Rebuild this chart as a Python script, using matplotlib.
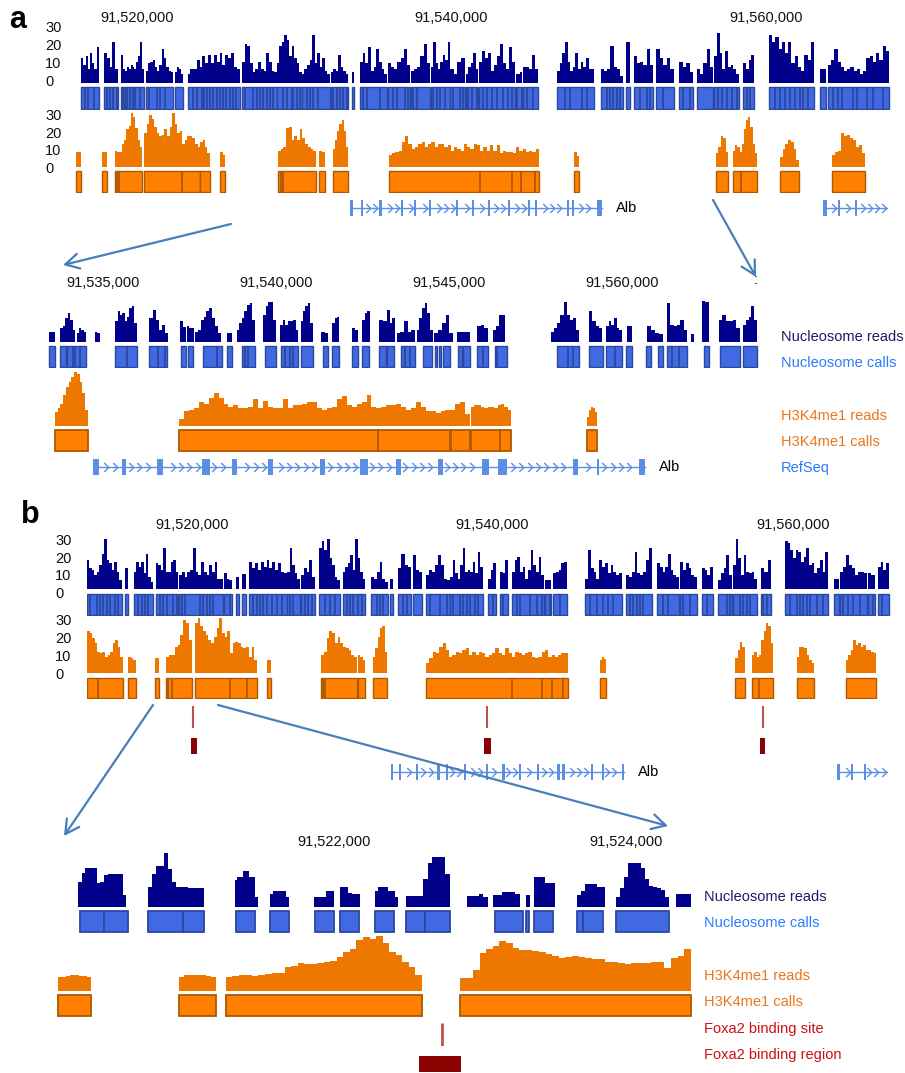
import matplotlib
matplotlib.use('Agg')
import matplotlib.pyplot as plt
import numpy as np
from matplotlib.patches import Rectangle, FancyArrowPatch
from matplotlib.path import Path
from matplotlib.transforms import blended_transform_factory, ScaledTranslation

plt.rcParams['font.family'] = ['Liberation Sans', 'DejaVu Sans']

# ----------------------------------------------------------------- DATA (kb)
# ---- panel a, overview
A_TICKS = [91520, 91540, 91560]
A_TICK_LABELS = ['91,520,000', '91,540,000', '91,560,000']
Y_TICKS = [0, 10, 20, 30]
NUC_A_READS = [
    (91516.44, 91517.58, [14, 10, 15, 8, 17, 11, 8, 20]),
    (91517.90, 91518.79, [17, 14, 9, 23, 8]),
    (91518.98, 91520.45, [16, 8, 7, 9, 8, 10, 9, 8, 12, 15, 23, 8]),
    (91520.57, 91522.29, [7, 11, 12, 13, 9, 7, 10, 19, 14, 9, 7, 6]),
    (91522.42, 91522.93, [6, 9, 8, 5]),
    (91523.24, 91524.13, [5, 8, 8, 8, 13, 9]),
    (91524.13, 91526.55, [15, 11, 16, 11, 16, 12, 17, 10, 16, 14, 17, 9, 8]),
    (91526.68, 91528.90, [12, 22, 21, 11, 6, 8, 12, 8, 7, 17, 12, 7, 6]),
    (91528.90, 91530.49, [11, 21, 23, 27, 24, 15, 21, 14, 11, 6]),
    (91530.49, 91532.27, [5, 8, 10, 13, 27, 11, 17, 9, 14, 7, 5]),
    (91532.34, 91533.42, [6, 8, 7, 16, 9, 7, 5]),
    (91533.67, 91533.80, [6]),
    (91534.18, 91535.90, [12, 17, 11, 20, 7, 9, 19, 12, 8, 5]),
    (91535.96, 91537.36, [11, 9, 8, 12, 14, 19, 10]),
    (91537.42, 91538.63, [7, 8, 9, 15, 22, 11]),
    (91538.70, 91539.90, [9, 23, 11, 8, 12, 16, 13, 23]),
    (91539.90, 91540.86, [8, 5, 12, 14]),
    (91540.92, 91541.68, [5, 9, 11, 17, 8]),
    (91541.75, 91544.04, [12, 18, 14, 17, 7, 10, 15, 22, 11, 8, 20, 12]),
    (91544.10, 91544.48, [5, 5, 6]),
    (91544.55, 91545.50, [9, 9, 8, 16, 8]),
    (91546.71, 91549.06, [7, 11, 17, 23, 12, 7, 9, 17, 8, 12, 9, 14, 8, 8]),
    (91549.51, 91550.91, [8, 7, 8, 21, 9, 8, 4]),
    (91551.10, 91551.35, [23]),
    (91551.60, 91552.81, [15, 11, 12, 10, 19, 10]),
    (91553.00, 91554.15, [19, 14, 10, 14, 8]),
    (91554.47, 91555.36, [12, 9, 11, 6]),
    (91555.61, 91556.63, [8, 5, 11, 19, 9]),
    (91556.69, 91558.28, [15, 28, 17, 8, 18, 9, 10, 8, 5]),
    (91558.54, 91559.24, [11, 8, 13, 16]),
    (91560.19, 91563.05, [27, 23, 26, 19, 23, 17, 23, 11, 15, 9, 7, 16, 13, 23]),
    (91563.43, 91563.81, [8]),
    (91563.94, 91567.82, [10, 13, 19, 12, 9, 7, 8, 9, 7, 8, 5, 7, 14, 15, 12, 17, 13, 21, 18]),
]
NUC_A_SPLITS = [91516.72, 91516.91, 91517.27, 91518.12, 91518.28, 91518.50, 91518.71, 91519.09,
                91519.24, 91519.39, 91519.56, 91519.73, 91519.87, 91520.19, 91520.76, 91521.25,
                91521.46, 91521.78, 91523.54, 91523.80, 91524.11, 91524.26, 91524.43, 91524.64,
                91524.85, 91525.07, 91525.28, 91525.45, 91525.66, 91525.91, 91526.13, 91526.30,
                91526.87, 91527.40, 91527.61, 91527.82, 91528.03, 91528.25, 91528.46, 91528.67,
                91529.31, 91529.52, 91529.84, 91529.94, 91530.16, 91530.37, 91530.79, 91531.00,
                91531.21, 91531.53, 91532.49, 91532.70, 91532.91, 91533.12, 91533.33, 91534.40,
                91534.61, 91535.45, 91536.30, 91536.51, 91537.04, 91537.25, 91537.57, 91537.78,
                91538.84, 91539.05, 91539.27, 91539.59, 91540.12, 91540.54, 91540.75, 91541.07,
                91541.28, 91541.60, 91542.02, 91542.24, 91542.55, 91542.87, 91543.30, 91543.61,
                91543.83, 91544.14, 91544.46, 91544.78, 91545.20, 91547.22, 91547.54, 91548.28,
                91548.60, 91549.87, 91550.08, 91550.29, 91550.50, 91550.72, 91551.99, 91552.41,
                91552.62, 91553.47, 91554.74, 91555.17, 91556.97, 91557.18, 91557.50, 91557.82,
                91558.14, 91558.77, 91558.98, 91560.57, 91560.89, 91561.21, 91561.53, 91561.84,
                91562.16, 91562.37, 91562.69, 91564.28, 91564.60, 91564.81, 91565.55, 91565.77,
                91566.40, 91566.83, 91567.46]
H3_A_READS = [
    (91516.12, 91516.44, [8.5]),
    (91517.77, 91518.09, [8.5, 8]),
    (91518.60, 91520.32, [9, 8.5, 8.5, 13, 15, 21, 23, 30, 28, 22, 15, 11]),
    (91520.45, 91524.01, [19, 24, 29, 27, 22.5, 19, 17, 18, 21, 17, 22.5, 30, 24, 19, 20, 13, 15, 17,
                          17, 16, 13, 11]),
    (91524.01, 91524.64, [14, 15, 11, 7.5]),
    (91525.28, 91525.60, [8.5, 6.5]),
    (91528.97, 91531.38, [9, 10, 11, 21.5, 22.5, 15, 17, 15, 21, 16, 13, 11, 10, 9]),
    (91531.57, 91531.96, [9, 8.5]),
    (91532.46, 91533.42, [10, 15, 20, 24, 26, 20, 11]),
    (91536.02, 91545.56, [6.5, 7.5, 8.5, 9, 14, 17, 13, 10, 11, 13, 14, 11, 13, 14, 11, 13, 13, 11,
                          12, 9, 11, 10, 9, 13, 11, 10, 13, 12, 9, 11, 9, 12, 9, 12, 7.5, 9, 8.5,
                          8.5, 7.5, 11, 9, 10, 8.5, 9, 8.5, 10]),
    (91547.79, 91548.11, [8.5, 6]),
    (91556.82, 91557.58, [7.5, 11, 17, 16, 8.5]),
    (91557.90, 91559.43, [9, 12, 11, 8.5, 13, 21, 26, 28, 22.5, 13, 7.5]),
    (91560.89, 91562.10, [5.5, 10, 13, 15, 14, 10, 4]),
    (91564.20, 91566.29, [6.5, 8.5, 9, 19, 17, 18, 16, 15, 11, 12, 7.5]),
]
H3_A_CALLS = [(91516.12, 91516.44), (91517.77, 91518.09), (91518.60, 91520.32), (91520.45, 91524.01),
              (91524.01, 91524.64), (91525.28, 91525.60), (91528.97, 91531.38), (91531.57, 91531.96),
              (91532.46, 91533.42), (91536.02, 91545.56), (91547.79, 91548.11), (91556.82, 91557.58),
              (91557.90, 91559.43), (91560.89, 91562.10), (91564.20, 91566.29)]
H3_A_SPLITS = [91518.75, 91518.87, 91522.84, 91529.14, 91529.30, 91541.81, 91543.83, 91544.42,
               91545.31, 91558.41]
GENE_A = [(91533.54, 91549.57), (91563.62, 91567.69)]
EXONS_A = [(91533.54, 91533.74), (91534.22, 91534.38), (91535.36, 91535.55), (91536.76, 91536.94),
           (91537.60, 91537.75), (91538.55, 91538.70), (91540.27, 91540.43), (91541.29, 91541.44),
           (91542.30, 91542.46), (91543.57, 91543.73), (91544.86, 91545.02), (91545.28, 91545.44),
           (91547.33, 91547.48), (91547.66, 91547.80), (91549.25, 91549.57),
           (91563.62, 91563.88), (91564.58, 91564.72), (91565.66, 91565.80)]

# ---- panel a, zoom
AZ_TICKS = [91535, 91540, 91545, 91550]
AZ_TICK_LABELS = ['91,535,000', '91,540,000', '91,545,000', '91,560,000']
NUC_AZ_READS = [
    (91533.45, 91533.61, [7]),
    (91533.76, 91534.20, [9.3, 10.4, 16, 19.3, 15, 8]),
    (91534.24, 91534.51, [6, 9.3, 8, 7]),
    (91534.77, 91534.91, [7, 6]),
    (91535.35, 91535.97, [13.8, 20.4, 18, 19.3, 13.8, 17, 22.7, 23.8, 12.7]),
    (91536.34, 91536.89, [16, 21.6, 15, 8.2, 11.6, 6]),
    (91537.23, 91537.39, [13.8, 10]),
    (91537.42, 91537.63, [10.4, 9.3, 9.3]),
    (91537.66, 91538.40, [7, 8.2, 15, 17, 20.4, 22.7, 16, 10.4, 6]),
    (91538.58, 91538.72, [6]),
    (91538.86, 91539.39, [8.2, 12.7, 16, 20.4, 24.9, 26, 15]),
    (91539.63, 91540.00, [18, 23.8, 27, 27, 15]),
    (91540.12, 91540.64, [11.6, 15, 11.6, 13.8, 13.8, 15, 8.2]),
    (91540.71, 91541.06, [13.8, 20.4, 23.8, 26, 12.7]),
    (91541.30, 91541.51, [7, 6]),
    (91541.63, 91541.83, [12.7, 16, 17]),
    (91542.19, 91542.38, [9.3, 8.2]),
    (91542.48, 91542.72, [15, 19.3, 20.4]),
    (91542.99, 91543.20, [15, 13.8]),
    (91543.22, 91543.44, [21.6, 12.7, 16]),
    (91543.49, 91544.02, [6, 7, 13.8, 7, 8.2]),
    (91544.07, 91544.53, [8.2, 16, 22.7, 26, 19.3, 8.2]),
    (91544.57, 91545.12, [6, 8.2, 12.7, 18, 6]),
    (91545.23, 91545.61, [6.5]),
    (91545.81, 91546.13, [10.4, 11.6, 9.3]),
    (91546.27, 91546.62, [8.2, 10.4, 18, 18]),
    (91547.95, 91548.76, [7, 9.3, 12.7, 18, 27, 18, 15, 16, 8.2]),
    (91549.05, 91549.42, [20.4, 13.8, 10.4, 9.3]),
    (91549.54, 91550.00, [10.4, 13.8, 11.6, 16, 9.3, 8.2]),
    (91550.14, 91550.29, [10.4]),
    (91550.72, 91551.18, [10.4, 8.2, 6, 5.5]),
    (91551.30, 91551.88, [26, 11.6, 10.4, 11.6, 15, 8.2]),
    (91551.99, 91552.08, [5.5]),
    (91552.31, 91552.51, [27.5, 27]),
    (91552.80, 91553.41, [15, 18, 13.8, 13.8, 15, 9.3]),
    (91553.50, 91553.90, [11.6, 15, 17, 23.8, 15]),
]
NUC_AZ_CALLS = [(91533.45, 91533.61), (91533.76, 91533.92), (91533.95, 91534.51), (91535.35, 91535.97),
                (91536.34, 91536.86), (91537.25, 91537.40), (91537.45, 91537.61), (91537.90, 91538.43),
                (91538.58, 91538.72), (91539.01, 91539.39), (91539.68, 91540.00), (91540.14, 91540.64),
                (91540.71, 91541.06), (91541.35, 91541.51), (91541.63, 91541.83), (91542.19, 91542.38),
                (91542.48, 91542.70), (91542.99, 91543.18), (91543.22, 91543.41), (91543.61, 91544.02),
                (91544.24, 91544.50), (91544.60, 91544.65), (91544.70, 91544.76), (91544.83, 91545.03),
                (91545.27, 91545.37), (91545.41, 91545.61), (91545.82, 91546.14), (91546.33, 91546.67),
                (91548.13, 91548.77), (91549.05, 91549.44), (91549.53, 91549.99), (91550.12, 91550.30),
                (91550.69, 91550.83), (91551.05, 91551.19), (91551.29, 91551.87), (91552.37, 91552.51),
                (91552.83, 91553.41), (91553.51, 91553.90)]
NUC_AZ_SPLITS = [91534.12, 91534.19, 91534.34, 91535.68, 91536.60, 91536.79, 91538.29, 91539.10,
                 91539.20, 91540.26, 91540.40, 91540.50, 91543.73, 91543.87, 91545.97, 91546.40,
                 91548.45, 91548.59, 91549.80, 91551.44, 91551.66]
H3_AZ_READS = [
    (91533.61, 91534.56, [9.6, 11.8, 15, 20.7, 26, 29.6, 33, 36, 35, 29.6, 21.8, 10.7]),
    (91537.20, 91545.61, [5, 10, 11, 12, 16, 15, 19, 22, 19, 15, 13, 14, 12, 12, 13, 18, 12, 17, 13,
                          12, 12, 18, 12, 14, 14, 15, 16, 16, 12, 11, 12, 13, 18, 20, 14, 13, 15, 16,
                          21, 13, 12, 13, 14, 14, 15, 13, 11, 12, 16, 13, 10, 10, 9, 10, 11, 11, 15,
                          16, 8]),
    (91545.64, 91546.79, [13, 14, 14, 13, 12, 13, 13, 12, 14, 15, 13, 11]),
    (91548.99, 91549.28, [6.2, 10.7, 12.9, 12, 9.6]),
]
H3_AZ_CALLS = [(91533.61, 91534.56), (91537.20, 91542.94), (91542.94, 91545.03), (91545.06, 91545.61),
               (91545.64, 91546.47), (91546.47, 91546.79), (91548.99, 91549.28)]
GENE_AZ = [(91534.71, 91550.66)]
EXONS_AZ = [(91534.71, 91534.88), (91535.55, 91535.66), (91536.56, 91536.73), (91537.86, 91538.09),
            (91538.73, 91538.87), (91539.77, 91539.91), (91541.27, 91541.42), (91542.43, 91542.66),
            (91543.47, 91543.61), (91544.68, 91544.83), (91545.95, 91546.16), (91546.42, 91546.68),
            (91548.58, 91548.73), (91549.28, 91549.33), (91550.49, 91550.66)]

# ---- panel b, overview
B_TICKS = [91520, 91540, 91560]
B_TICK_LABELS = ['91,520,000', '91,540,000', '91,560,000']
NUC_B_READS = [
    (91513.01, 91515.34, [16.5, 11.8, 10.9, 8, 10, 13.7, 20, 28, 16.5, 14.6, 10.9, 15.6, 10, 5.3]),
    (91515.54, 91515.74, [11.8]),
    (91516.14, 91517.41, [10, 15.6, 12.8, 15.6, 9, 20, 7, 4.3]),
    (91517.60, 91519.07, [14.6, 13.7, 10.9, 23, 10, 10, 15.6, 16.5, 10]),
    (91519.14, 91522.06, [8, 10, 7, 10, 11, 23, 10, 8, 15.6, 10, 8, 13.7, 10, 15.6, 6, 6]),
    (91522.13, 91522.66, [9, 6, 5.3]),
    (91522.93, 91523.13, [7]),
    (91523.33, 91523.59, [8.6]),
    (91523.79, 91526.32, [15.6, 11.8, 14.6, 10.9, 15.6, 12.8, 16.5, 11.8, 15.6, 10.9, 14.6, 10, 9]),
    (91526.32, 91527.19, [10, 23, 13.7, 9, 6]),
    (91527.25, 91528.18, [8, 11.8, 10, 16.5, 7]),
    (91528.45, 91529.85, [23, 27, 22, 28, 17.4, 13.7, 7, 5.3]),
    (91530.05, 91531.51, [10, 12.8, 14.6, 19.3, 10.9, 28, 17.4, 10, 6]),
    (91531.91, 91533.04, [7, 6, 10, 15.6, 6, 4.3]),
    (91533.17, 91533.37, [6]),
    (91533.71, 91534.57, [11.8, 20, 13.7, 12.8]),
    (91534.70, 91535.30, [19.3, 10.9, 10]),
    (91535.57, 91537.17, [8, 10.9, 10, 13.7, 19.3, 13.7, 6, 5.3]),
    (91537.17, 91539.36, [7, 16.5, 9, 6, 13.7, 23, 10, 10.9, 10, 15.6, 9, 21, 12.8]),
    (91539.69, 91540.23, [6, 10.9, 14.6]),
    (91540.49, 91541.02, [10, 9, 16.5]),
    (91541.29, 91543.42, [10, 16.5, 18.4, 10, 12.8, 6, 10.9, 22, 13.7, 10, 18.4, 8]),
    (91543.49, 91543.88, [5.3]),
    (91544.02, 91544.95, [9, 10, 10.9, 14.6, 15.6]),
    (91546.15, 91548.61, [6, 22, 11.8, 10, 6, 16.5, 12.8, 14.6, 9, 13.7, 10, 8, 9]),
    (91548.87, 91550.60, [8, 7, 10, 21, 9, 8, 10, 16.5, 23]),
    (91550.94, 91552.40, [14.6, 12.8, 10, 12.8, 20, 10.9, 8, 7]),
    (91552.47, 91553.60, [15.6, 10.9, 14.6, 11.8, 8, 7]),
    (91553.93, 91554.66, [11.8, 10.9, 8, 12.8]),
    (91555.00, 91555.93, [5.3, 9, 11.8, 19.3, 8]),
    (91555.99, 91557.59, [13.7, 28, 17.4, 8, 19.3, 10, 9, 10, 6]),
    (91557.86, 91558.52, [11.8, 10, 16.5]),
    (91559.45, 91562.31, [27, 26, 22, 17.4, 22, 21, 15.6, 18.4, 23, 13.7, 14.6, 9, 11.8, 16.5, 10, 21]),
    (91562.71, 91563.05, [6, 6]),
    (91563.11, 91564.91, [10, 12.8, 19.3, 13.7, 11.8, 8, 10, 10, 9]),
    (91564.97, 91565.44, [9, 8]),
    (91565.64, 91566.37, [12.8, 15.6, 10.9, 14.6]),
]
NUC_B_SPLITS = [91513.21, 91513.66, 91513.88, 91514.10, 91514.32, 91514.54, 91514.88, 91515.10,
                91516.43, 91516.65, 91516.87, 91517.09, 91517.87, 91518.09, 91518.31, 91518.76,
                91518.98, 91519.31, 91519.53, 91520.53, 91520.75, 91520.98, 91521.20, 91521.42,
                91522.53, 91524.08, 91524.30, 91524.52, 91524.74, 91524.97, 91525.30, 91525.63,
                91525.96, 91526.52, 91526.74, 91527.52, 91527.74, 91527.96, 91528.85, 91529.18,
                91529.51, 91530.29, 91530.51, 91530.73, 91531.07, 91531.29, 91532.28, 91532.51,
                91532.73, 91534.06, 91534.28, 91535.83, 91536.50, 91536.94, 91537.39, 91537.83,
                91538.05, 91538.27, 91538.50, 91538.83, 91539.05, 91540.05, 91540.71, 91541.60,
                91541.82, 91542.49, 91542.93, 91543.26, 91543.82, 91544.48, 91546.48, 91546.92,
                91547.37, 91547.70, 91548.03, 91549.14, 91549.36, 91549.58, 91549.81, 91550.03,
                91551.36, 91551.69, 91552.69, 91553.13, 91554.24, 91555.57, 91555.79, 91556.46,
                91556.68, 91556.90, 91557.12, 91558.01, 91558.23, 91559.79, 91560.23, 91560.45,
                91560.67, 91560.89, 91561.12, 91561.56, 91562.00, 91563.33, 91563.67, 91564.00,
                91564.44, 91565.33, 91565.88]
H3_B_READS = [
    (91513.01, 91515.41, [23.5, 22.5, 19.7, 16.9, 12.2, 11.3, 12.2, 9.4, 10.3, 12.2, 16.9, 18.8, 15, 9.4]),
    (91515.74, 91516.27, [9.4, 8.4, 7.5]),
    (91517.54, 91517.80, [8.4]),
    (91518.27, 91520.00, [9.4, 10.3, 10.3, 15, 16, 21.6, 30, 28, 18.8]),
    (91520.20, 91524.32, [28, 31, 26.3, 23.5, 21.6, 18.8, 16.9, 20.6, 25.3, 31, 22.5, 20.6, 23.5, 11.3,
                          16.9, 17.8, 16.9, 15, 14, 15, 9.4, 15, 7.5]),
    (91524.99, 91525.26, [7.5]),
    (91528.58, 91530.98, [10.3, 12.2, 19.7, 23.5, 22.5, 16.9, 20.6, 16.9, 15, 14, 13.1, 10.3, 9.4]),
    (91531.04, 91531.51, [10.3, 9.4, 7.5]),
    (91532.04, 91532.97, [9.4, 14, 20.6, 25.3, 26.6, 12]),
    (91535.57, 91545.02, [5.6, 8.4, 12.2, 11.3, 15, 16.9, 13.1, 9.4, 10.3, 12.2, 11.3, 13.1, 14, 10.3,
                          12.2, 10.3, 12.2, 11.3, 9.4, 10.3, 11.3, 14, 11.3, 10.3, 14, 11.3, 9.4, 12.2,
                          11.3, 10.3, 11.3, 12.2, 9.4, 8.4, 9.4, 12.2, 13.1, 9.4, 10.3, 9.4, 10.3,
                          11.3, 11.3]),
    (91547.14, 91547.54, [7.5, 9.4, 8]),
    (91556.13, 91556.79, [8.4, 13.1, 17.8, 15]),
    (91557.26, 91558.65, [10.3, 12.2, 9.4, 10.3, 18.8, 23.5, 28, 26.3, 16.9]),
    (91560.25, 91561.38, [9.4, 15, 15, 14, 10.3, 7.5, 5.6]),
    (91563.51, 91565.51, [7.5, 10.3, 13.1, 18.8, 16, 16.9, 15, 16, 13.1, 13.1, 12.2, 11.3]),
]
H3_B_CALLS = [(91513.01, 91515.41), (91515.74, 91516.27), (91517.54, 91517.80), (91518.27, 91520.00),
              (91520.20, 91524.32), (91524.99, 91525.26), (91528.58, 91530.98), (91531.04, 91531.51),
              (91532.04, 91532.97), (91535.57, 91545.02), (91547.14, 91547.54), (91556.13, 91556.79),
              (91557.26, 91558.65), (91560.25, 91561.38), (91563.51, 91565.51)]
H3_B_SPLITS = [91513.75, 91518.42, 91518.65, 91522.53, 91523.64, 91528.74, 91528.85, 91541.27,
               91543.27, 91543.93, 91544.70, 91557.74]
FOXA_B_SITES = [91520.07, 91539.66, 91557.99]
FOXA_B_REGIONS = [(91519.91, 91520.31), (91539.45, 91539.87), (91557.79, 91558.14)]
GENE_B = [(91533.24, 91548.74), (91562.91, 91566.24)]
EXONS_B = [(91533.24, 91533.40), (91533.77, 91533.91), (91534.90, 91535.04), (91536.30, 91536.50),
           (91536.90, 91537.04), (91538.09, 91538.23), (91539.56, 91539.70), (91540.62, 91540.82),
           (91541.75, 91541.89), (91542.95, 91543.09), (91544.28, 91544.50), (91544.64, 91544.82),
           (91546.54, 91546.68), (91547.27, 91547.41), (91548.58, 91548.74),
           (91562.91, 91563.11), (91563.84, 91563.98), (91564.70, 91564.84)]

# ---- panel b, zoom
BZ_TICKS = [91522, 91524]
BZ_TICK_LABELS = ['91,522,000', '91,524,000']
NUC_BZ_READS = [
    (91520.25, 91520.58, [12.5, 17, 19.5, 19.5, 19.5, 12, 12.5, 16, 16.3, 16.3, 16.3, 16.3, 6]),
    (91520.73, 91521.11, [9.7, 16.3, 20.3, 20.3, 27, 19, 12.5, 10, 10, 10, 9.5, 9.2, 9.2, 9.2]),
    (91521.32, 91521.48, [13.3, 14.7, 14.7, 18, 18, 14.7, 14.7, 4.7]),
    (91521.56, 91521.69, [6.3, 8, 8, 8, 8, 4.7]),
    (91521.86, 91522.00, [4.7, 4.7, 4.7, 8, 8]),
    (91522.04, 91522.18, [10, 10, 6.7, 6.3, 6.3]),
    (91522.28, 91522.44, [8, 10, 10, 10, 8, 8, 4.7]),
    (91522.49, 91522.79, [5.5, 5.5, 5.5, 5.5, 14, 22, 24.7, 24.7, 24.7, 16.3]),
    (91522.91, 91523.05, [5.3, 5.3, 5.5, 6.3, 5]),
    (91523.09, 91523.27, [5.8, 5.8, 7.5, 7.5, 7.5, 6.3]),
    (91523.31, 91523.34, [5.8]),
    (91523.37, 91523.51, [14.7, 14.7, 11.7, 11.7]),
    (91523.66, 91523.85, [5.8, 8, 11.3, 11.3, 11.3, 9.7, 9.7]),
    (91523.93, 91524.29, [5, 9.2, 15, 21.7, 22, 22, 19.2, 14, 10.5, 9.7, 9.5, 8.3, 4.7]),
    (91524.34, 91524.44, [6.3]),
]
NUC_BZ_CALLS = [(91520.26, 91520.43), (91520.43, 91520.59), (91520.73, 91520.97), (91520.97, 91521.11),
                (91521.33, 91521.46), (91521.56, 91521.69), (91521.87, 91522.00), (91522.04, 91522.17),
                (91522.28, 91522.41), (91522.49, 91522.62), (91522.62, 91522.79), (91523.10, 91523.29),
                (91523.31, 91523.33), (91523.37, 91523.50), (91523.66, 91523.70), (91523.70, 91523.84),
                (91523.93, 91524.29)]
H3_BZ_READS = [
    (91520.11, 91520.34, [6.8, 7, 7.3, 7.8, 7.8, 7.5, 7.2, 6.8]),
    (91520.94, 91521.19, [7, 7.8, 8, 7.8, 7.8, 8, 7.5, 7]),
    (91521.26, 91522.60, [7, 7.3, 7.8, 7.8, 7.5, 7.8, 8.2, 8.7, 9, 12, 12.5, 13.7, 13.2, 13.5, 14, 14.5,
                          15, 17, 19.5, 21, 25.3, 27, 26, 27.3, 23.7, 19.5, 17.8, 14.5, 12, 8]),
    (91522.86, 91524.44, [6.2, 6.5, 10.3, 18.7, 21, 22.3, 25, 23.7, 21.5, 20.5, 20.3, 20, 19.5, 18.5,
                          17.5, 16.5, 17, 17.2, 16.8, 16.5, 16, 15.8, 14.5, 14.3, 13.7, 13.5, 13.9,
                          13.7, 14, 14.5, 14.2, 11.2, 16.5, 17.5, 21]),
]
H3_BZ_CALLS = [(91520.11, 91520.34), (91520.94, 91521.19), (91521.26, 91522.60), (91522.86, 91524.44)]
FOXA_BZ_SITES = [91522.74]
FOXA_BZ_REGIONS = [(91522.58, 91522.87)]

LEGEND_A = ['Nucleosome reads', 'Nucleosome calls', 'H3K4me1 reads', 'H3K4me1 calls', 'RefSeq']
LEGEND_B = ['Nucleosome reads', 'Nucleosome calls', 'H3K4me1 reads', 'H3K4me1 calls',
            'Foxa2 binding site', 'Foxa2 binding region']

# ----------------------------------------------------------------- STYLE
NUC_READ_C = '#00008B'
NUC_CALL_C = '#4169E1'
NUC_EDGE_C = '#2a48a0'
H3_READ_C = '#EE7700'
H3_CALL_C = '#FF8000'
H3_EDGE_C = '#b05800'
GENE_C = '#5b8fe6'
FOXA_SITE_C = '#c0504d'
FOXA_REG_C = '#8b0000'
ARROW_C = '#4a7ebb'
LEG_COLORS = {'Nucleosome reads': '#1c1c66', 'Nucleosome calls': '#2b7bff',
              'H3K4me1 reads': '#e8771e', 'H3K4me1 calls': '#e8771e', 'RefSeq': '#2b7bff',
              'Foxa2 binding site': '#cc1111', 'Foxa2 binding region': '#cc1111'}
FS = 10.5

W, H = 905, 1073
fig = plt.figure(figsize=(W / 100, H / 100), dpi=100)

CHEV = Path([(-0.5, 1.0), (0.5, 0.0), (-0.5, -1.0)], [Path.MOVETO, Path.LINETO, Path.LINETO])


def add_ax(x0, x1, y0, y1, xlim, ylim=(0, 1)):
    ax = fig.add_axes([x0 / W, 1 - y1 / H, (x1 - x0) / W, (y1 - y0) / H])
    ax.set_xlim(*xlim)
    ax.set_ylim(*ylim)
    ax.set_axis_off()
    return ax


def draw_reads(ax, blocks, color):
    for s, e, hs in blocks:
        edges = np.linspace(s, e, len(hs) + 1)
        ax.stairs(hs, edges, fill=True, color=color, baseline=0, lw=0, clip_on=False)


def draw_calls(ax, calls, splits, face, edge, lw=1.0):
    for s, e in calls:
        ax.add_patch(Rectangle((s, 0.03), e - s, 0.94, facecolor=face, edgecolor=edge, lw=lw))
    for x in splits:
        if any(s < x < e for s, e in calls):
            ax.plot([x, x], [0.03, 0.97], color=edge, lw=1.3, solid_capstyle='butt')


def draw_gene(ax, spans, exons, step, label_end):
    for s, e in spans:
        ax.plot([s, e], [0.5, 0.5], color=GENE_C, lw=1.0)
        xs = np.arange(s + step * 0.6, e - step * 0.3, step)
        xs = [x for x in xs if not any(a - step * 0.35 < x < b + step * 0.35 for a, b in exons)]
        ax.plot(xs, [0.5] * len(xs), ls='none', marker=CHEV, ms=6.5, mfc='none', mec=GENE_C, mew=1.0)
    for a, b in exons:
        ax.add_patch(Rectangle((a, 0.03), b - a, 0.94, facecolor=GENE_C, edgecolor='none'))
    ax.annotate('Alb', xy=(label_end, 0.5), xytext=(10, 0), textcoords='offset points',
                va='center', ha='left', fontsize=FS, color='black')


def tick_labels(ax, ticks, labels, ypx):
    tr = blended_transform_factory(ax.transData, fig.transFigure)
    for t, lab in zip(ticks, labels):
        ax.text(t, 1 - ypx / H, lab, transform=tr, ha='center', va='center', fontsize=FS,
                color='#111111', clip_on=False)


def y_labels(ax, xpx, off_px):
    tr = blended_transform_factory(fig.transFigure, ax.transData) + \
        ScaledTranslation(0, -off_px / 100, fig.dpi_scale_trans)
    for v in Y_TICKS:
        ax.text(xpx / W, v, str(v), transform=tr, ha='left', va='center', fontsize=FS,
                color='#111111', clip_on=False)


def legend(items, xpx, ypxs):
    for lab, y in zip(items, ypxs):
        fig.text(xpx / W, 1 - y / H, lab, ha='left', va='center', fontsize=FS, color=LEG_COLORS[lab])


def arrow(p0, p1):
    a = FancyArrowPatch((p0[0] / W, 1 - p0[1] / H), (p1[0] / W, 1 - p1[1] / H),
                        transform=fig.transFigure, arrowstyle='->,head_length=0.55,head_width=0.3',
                        mutation_scale=18, color=ARROW_C, lw=1.6, shrinkA=0, shrinkB=0)
    fig.add_artist(a)


# ----------------------------------------------------------------- PANEL a
XA = (74.1, 891.8, (91516.0, 91568.0))
ax = add_ax(XA[0], XA[1], 29.6, 83.0, XA[2], (0, 30))
draw_reads(ax, NUC_A_READS, NUC_READ_C)
tick_labels(ax, A_TICKS, A_TICK_LABELS, 18)
y_labels(ax, 45, -1.5)
ax = add_ax(XA[0], XA[1], 86, 110, XA[2])
draw_calls(ax, [(s, e) for s, e, _ in NUC_A_READS], NUC_A_SPLITS, NUC_CALL_C, NUC_EDGE_C)
ax = add_ax(XA[0], XA[1], 113.3, 166.7, XA[2], (0, 30))
draw_reads(ax, H3_A_READS, H3_READ_C)
y_labels(ax, 45, 2.5)
ax = add_ax(XA[0], XA[1], 170, 193, XA[2])
draw_calls(ax, H3_A_CALLS, H3_A_SPLITS, H3_CALL_C, H3_EDGE_C)
ax = add_ax(XA[0], XA[1], 199.5, 216.5, XA[2])
draw_gene(ax, GENE_A, EXONS_A, 0.45, GENE_A[0][1])

# ---- a zoom
XAZ = (44.2, 760.4, (91533.3, 91554.0))
ax = add_ax(XAZ[0], XAZ[1], 297, 342, XAZ[2], (0, 30))
draw_reads(ax, NUC_AZ_READS, NUC_READ_C)
tick_labels(ax, AZ_TICKS, AZ_TICK_LABELS, 283)
ax = add_ax(XAZ[0], XAZ[1], 345, 368, XAZ[2])
draw_calls(ax, NUC_AZ_CALLS, NUC_AZ_SPLITS, NUC_CALL_C, NUC_EDGE_C)
ax = add_ax(XAZ[0], XAZ[1], 366, 426, XAZ[2], (0, 40))
draw_reads(ax, H3_AZ_READS, H3_READ_C)
ax = add_ax(XAZ[0], XAZ[1], 429, 452, XAZ[2])
draw_calls(ax, H3_AZ_CALLS, [], H3_CALL_C, H3_EDGE_C, lw=1.3)
ax = add_ax(XAZ[0], XAZ[1], 458.5, 475.5, XAZ[2])
draw_gene(ax, GENE_AZ, EXONS_AZ, 0.24, GENE_AZ[0][1])
fig.text(756 / W, 1 - 280 / H, ':', ha='center', va='center', fontsize=FS, color='black')
legend(LEGEND_A, 781, [337, 363, 416, 442, 468])

# ----------------------------------------------------------------- PANEL b
XB = (86.8, 892.4, (91513.0, 91566.6))
ax = add_ax(XB[0], XB[1], 535.9, 589.3, XB[2], (0, 30))
draw_reads(ax, NUC_B_READS, NUC_READ_C)
tick_labels(ax, B_TICKS, B_TICK_LABELS, 525)
y_labels(ax, 55, 5)
ax = add_ax(XB[0], XB[1], 593, 616, XB[2])
draw_calls(ax, [(s, e) for s, e, _ in NUC_B_READS], NUC_B_SPLITS, NUC_CALL_C, NUC_EDGE_C)
ax = add_ax(XB[0], XB[1], 619.9, 673.3, XB[2], (0, 30))
draw_reads(ax, H3_B_READS, H3_READ_C)
y_labels(ax, 55, 1.5)
ax = add_ax(XB[0], XB[1], 677, 699, XB[2])
draw_calls(ax, H3_B_CALLS, H3_B_SPLITS, H3_CALL_C, H3_EDGE_C)
ax = add_ax(XB[0], XB[1], 706, 728, XB[2])
ax.vlines(FOXA_B_SITES, 0, 1, color=FOXA_SITE_C, lw=1.5)
ax = add_ax(XB[0], XB[1], 738, 754, XB[2])
for s, e in FOXA_B_REGIONS:
    ax.add_patch(Rectangle((s, 0), e - s, 1, facecolor=FOXA_REG_C, edgecolor='none'))
ax = add_ax(XB[0], XB[1], 763.5, 780.5, XB[2])
draw_gene(ax, GENE_B, EXONS_B, 0.47, GENE_B[0][1])

# ---- b zoom
XBZ = (53.2, 693.8, (91520.08, 91524.46))
ax = add_ax(XBZ[0], XBZ[1], 846.7, 906.7, XBZ[2], (0, 30))
draw_reads(ax, NUC_BZ_READS, NUC_READ_C)
tick_labels(ax, BZ_TICKS, BZ_TICK_LABELS, 842)
ax = add_ax(XBZ[0], XBZ[1], 910, 933, XBZ[2])
draw_calls(ax, NUC_BZ_CALLS, [], NUC_CALL_C, NUC_EDGE_C, lw=1.3)
ax = add_ax(XBZ[0], XBZ[1], 930.7, 990.7, XBZ[2], (0, 30))
draw_reads(ax, H3_BZ_READS, H3_READ_C)
ax = add_ax(XBZ[0], XBZ[1], 994, 1017, XBZ[2])
draw_calls(ax, H3_BZ_CALLS, [], H3_CALL_C, H3_EDGE_C, lw=1.3)
ax = add_ax(XBZ[0], XBZ[1], 1023, 1046, XBZ[2])
ax.vlines(FOXA_BZ_SITES, 0, 1, color=FOXA_SITE_C, lw=2)
ax = add_ax(XBZ[0], XBZ[1], 1056, 1072, XBZ[2])
for s, e in FOXA_BZ_REGIONS:
    ax.add_patch(Rectangle((s, 0), e - s, 1, facecolor=FOXA_REG_C, edgecolor='none'))
legend(LEGEND_B, 704, [897, 923, 976, 1002, 1029, 1055])

# ----------------------------------------------------------------- decorations
fig.text(18 / W, 1 - 20 / H, 'a', ha='center', va='center', fontsize=22, fontweight='bold')
fig.text(30 / W, 1 - 515 / H, 'b', ha='center', va='center', fontsize=22, fontweight='bold')
arrow((231, 224), (63, 265))
arrow((713, 200), (756, 277))
arrow((153, 705), (64, 836))
arrow((218, 705), (668, 826))

fig.savefig('out.png', dpi=100)
